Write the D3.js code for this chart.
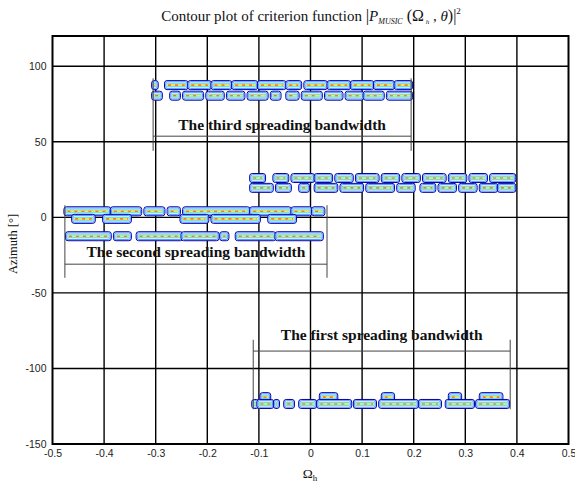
<!DOCTYPE html>
<html>
<head>
<meta charset="utf-8">
<script src="https://cdn.jsdelivr.net/npm/d3@7"></script>
<style>
  body { margin: 0; background: #fff; }
  .tick text { font-family: "Liberation Sans", Arial, sans-serif; font-size: 10.5px; fill: #222; }
  .serif { font-family: "Liberation Serif", "Times New Roman", serif; }
</style>
</head>
<body>
<script>
// ---- data ----
var xTicks = [-0.5, -0.4, -0.3, -0.2, -0.1, 0, 0.1, 0.2, 0.3, 0.4, 0.5];
var yTicks = [-150, -100, -50, 0, 50, 100];

// contour blobs per band: [omegaStart, omegaEnd, azimuth]
var thirdBand = [
  [-0.305,-0.298,87.5],[-0.28,-0.24,87.5],[-0.235,-0.195,87.5],[-0.19,-0.155,87.5],[-0.15,-0.105,87.5],[-0.10,-0.05,87.5],
  [-0.045,-0.02,87.5],[-0.01,0.03,87.5],[0.035,0.075,87.5],[0.08,0.12,87.5],[0.125,0.16,87.5],[0.165,0.195,87.5],
  [-0.305,-0.29,80.5],[-0.27,-0.255,80.5],[-0.245,-0.21,80.5],[-0.2,-0.17,80.5],[-0.16,-0.13,80.5],[-0.12,-0.085,80.5],
  [-0.075,-0.06,80.5],[-0.045,-0.025,80.5],[-0.015,0.02,80.5],[0.03,0.06,80.5],[0.07,0.1,80.5],[0.105,0.14,80.5],[0.15,0.195,80.5]
];
var middleBand = [
  [-0.115,-0.09,26],[-0.07,-0.045,26],[-0.035,0.005,26],[0.01,0.04,26],[0.05,0.08,26],[0.09,0.13,26],
  [0.14,0.17,26],[0.18,0.21,26],[0.22,0.26,26],[0.27,0.3,26],[0.31,0.34,26],[0.35,0.395,26],
  [-0.115,-0.075,19.5],[-0.065,-0.04,19.5],[-0.02,-0.005,19.5],[0.01,0.05,19.5],[0.06,0.1,19.5],[0.11,0.16,19.5],
  [0.17,0.2,19.5],[0.215,0.24,19.5],[0.25,0.28,19.5],[0.29,0.32,19.5],[0.33,0.36,19.5],[0.365,0.395,19.5]
];
var secondBand = [
  [-0.475,-0.39,4],[-0.385,-0.33,4],[-0.32,-0.285,4],[-0.275,-0.255,4],[-0.245,-0.12,4],[-0.115,-0.04,4],
  [-0.035,0.0,4],[0.005,0.025,4],
  [-0.46,-0.42,-1],[-0.4,-0.35,-1],[-0.25,-0.2,-1],[-0.19,-0.1,-1],[-0.08,-0.03,-1],
  [-0.472,-0.389,-12.5],[-0.379,-0.35,-12.5],[-0.335,-0.25,-12.5],[-0.248,-0.18,-12.5],[-0.173,-0.161,-12.5],
  [-0.143,-0.07,-12.5],[-0.066,0.022,-12.5]
];
var firstBand = [
  [-0.095,-0.08,-119],[0.02,0.05,-119],[0.14,0.16,-119],[0.27,0.29,-119],[0.33,0.37,-119],
  [-0.111,-0.103,-123.5],[-0.101,-0.074,-123.5],[-0.069,-0.063,-123.5],[-0.049,-0.034,-123.5],[-0.02,0.009,-123.5],
  [0.015,0.077,-123.5],[0.086,0.125,-123.5],[0.135,0.206,-123.5],[0.212,0.251,-123.5],[0.264,0.315,-123.5],[0.323,0.383,-123.5]
];

// bracket annotations: left omega, right omega, top az, bottom az, line az, text az
var labels = ["The third spreading bandwidth", "The second spreading bandwidth", "The first spreading bandwidth"];
var brackets = [
  [-0.305, 0.195, 92, 44, 53.7, 57.5],
  [-0.476, 0.032, 8, -40, -31, -26.5],
  [-0.111, 0.387, -81, -127, -88.5, -81]
];

// ---- layout ----
var svgWidth = 575;
var svgHeight = 486;
var margin = { top: 36, right: 6.5, bottom: 42, left: 52.5 };
var width = svgWidth - margin.left - margin.right;
var height = svgHeight - margin.top - margin.bottom;

var svg = d3.select("body").append("svg").attr("width", svgWidth).attr("height", svgHeight);
var chartGroup = svg.append("g").attr("transform", `translate(${margin.left}, ${margin.top})`);

var x = d3.scaleLinear().domain([-0.5, 0.5]).range([0, width]);
var y = d3.scaleLinear().domain([-150, 120]).range([height, 0]);

// grid
chartGroup.selectAll(".vgrid").data(xTicks.slice(1, -1)).enter().append("line")
  .attr("x1", d => x(d)).attr("x2", d => x(d)).attr("y1", 0).attr("y2", height)
  .attr("stroke", "#000").attr("stroke-width", 1.4);
chartGroup.selectAll(".hgrid").data(yTicks.slice(1)).enter().append("line")
  .attr("x1", 0).attr("x2", width).attr("y1", d => y(d)).attr("y2", d => y(d))
  .attr("stroke", "#000").attr("stroke-width", 1.4);

// contour blobs
var blobs = chartGroup.append("g");
[thirdBand, middleBand, secondBand, firstBand].forEach(function(band) {
  var g = blobs.selectAll(null).data(band).enter().append("g");
  var hh = 9;
  g.append("rect")
    .attr("x", d => x(d[0]) - 1.5).attr("y", d => y(d[2]) - hh / 2)
    .attr("width", d => Math.max(3, x(d[1]) - x(d[0]) + 3)).attr("height", hh)
    .attr("rx", 2.5).attr("fill", "#e6f8ff").attr("stroke", "#0000a8").attr("stroke-width", 1);
  g.append("rect")
    .attr("x", d => x(d[0]) - 0.3).attr("y", d => y(d[2]) - hh / 2 + 1.2)
    .attr("width", d => Math.max(1, x(d[1]) - x(d[0]) + 0.6)).attr("height", hh - 2.4)
    .attr("rx", 1.5).attr("fill", "none").attr("stroke", "#3a7cff").attr("stroke-width", 0.8);
  g.append("rect")
    .attr("x", d => x(d[0]) + 0.5).attr("y", d => y(d[2]) - 2)
    .attr("width", d => Math.max(1, x(d[1]) - x(d[0]) - 1)).attr("height", 4)
    .attr("fill", "#5ee0ff");
  g.append("rect")
    .attr("x", d => x(d[0]) + 1).attr("y", d => y(d[2]) - 0.9)
    .attr("width", d => Math.max(1, x(d[1]) - x(d[0]) - 2)).attr("height", 1.8)
    .attr("fill", "#f2ea50");
  g.append("line")
    .attr("x1", d => x(d[0]) + 2).attr("x2", d => x(d[1]) - 2)
    .attr("y1", d => y(d[2])).attr("y2", d => y(d[2]))
    .attr("stroke", "#ff5a00").attr("stroke-width", 1.1).attr("stroke-dasharray", "3,4");
});

// annotations
var ann = chartGroup.selectAll(".ann").data(brackets).enter().append("g");
ann.append("line").attr("x1", d => x(d[0])).attr("x2", d => x(d[0]))
  .attr("y1", d => y(d[2])).attr("y2", d => y(d[3])).attr("stroke", "#444").attr("stroke-width", 1);
ann.append("line").attr("x1", d => x(d[1])).attr("x2", d => x(d[1]))
  .attr("y1", d => y(d[2])).attr("y2", d => y(d[3])).attr("stroke", "#444").attr("stroke-width", 1);
ann.append("line").attr("x1", d => x(d[0])).attr("x2", d => x(d[1]))
  .attr("y1", d => y(d[4])).attr("y2", d => y(d[4])).attr("stroke", "#444").attr("stroke-width", 1);
ann.append("text").classed("serif", true)
  .attr("x", d => (x(d[0]) + x(d[1])) / 2).attr("y", d => y(d[5]))
  .attr("text-anchor", "middle").attr("font-size", 15.5).attr("font-weight", "bold").attr("fill", "#111")
  .text((d, i) => labels[i]);

// axes
var bottomAxis = d3.axisBottom(x).tickValues(xTicks).tickSize(0).tickPadding(6).tickFormat(d => String(d));
var leftAxis = d3.axisLeft(y).tickValues(yTicks).tickSize(0).tickPadding(6).tickFormat(d => String(d));
chartGroup.append("g").attr("transform", `translate(0,${height})`).call(bottomAxis)
  .call(g => g.select(".domain").remove());
chartGroup.append("g").call(leftAxis).call(g => g.select(".domain").remove());

// frame
chartGroup.append("rect").attr("width", width).attr("height", height)
  .attr("fill", "none").attr("stroke", "#000").attr("stroke-width", 2);

// title
var title = svg.append("text").classed("serif", true)
  .attr("x", 311).attr("y", 21).attr("text-anchor", "middle").attr("font-size", 15).attr("fill", "#111");
title.append("tspan").text("Contour plot of criterion function ");
title.append("tspan").attr("font-size", 17).text("|");
title.append("tspan").attr("font-style", "italic").text("P");
title.append("tspan").attr("font-style", "italic").attr("font-size", 8).attr("dy", 3).text("MUSIC");
title.append("tspan").attr("dy", -3).attr("font-size", 16).text(" (Ω");
title.append("tspan").attr("font-style", "italic").attr("font-size", 7).attr("dy", 3).text(" h");
title.append("tspan").attr("dy", -3).text(" , ");
title.append("tspan").attr("font-style", "italic").text("θ");
title.append("tspan").attr("font-size", 16).text(")|");
title.append("tspan").attr("font-size", 9).attr("dy", -7).text("2");

// axis labels
svg.append("text").classed("serif", true)
  .attr("transform", `translate(17,${margin.top + height / 2 + 4}) rotate(-90)`)
  .attr("text-anchor", "middle").attr("font-size", 12.5).attr("fill", "#111").text("Azimuth [°]");
var xl = svg.append("text").classed("serif", true)
  .attr("x", 310).attr("y", 478).attr("text-anchor", "middle").attr("font-size", 13.5).attr("fill", "#111");
xl.append("tspan").text("Ω");
xl.append("tspan").attr("font-size", 9).attr("dy", 3).text("h");
</script>
</body>
</html>
